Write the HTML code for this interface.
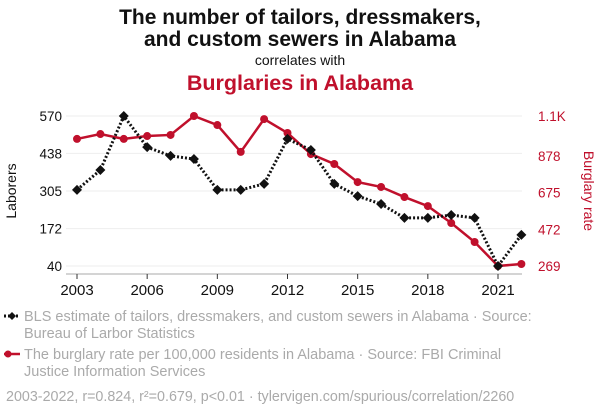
<!DOCTYPE html>
<html><head><meta charset="utf-8"><style>
body{margin:0;background:#fff;width:600px;height:414px;overflow:hidden;font-family:"Liberation Sans",sans-serif}
svg text{font-family:"Liberation Sans",sans-serif}
</style></head><body>
<svg width="600" height="414">
<text x="300" y="24" text-anchor="middle" font-size="21" font-weight="bold" fill="#111">The number of tailors, dressmakers,</text>
<text x="300" y="46" text-anchor="middle" font-size="21" font-weight="bold" fill="#111">and custom sewers in Alabama</text>
<text x="300" y="65" text-anchor="middle" font-size="14" fill="#111">correlates with</text>
<text x="300" y="90" text-anchor="middle" font-size="21.5" font-weight="bold" fill="#c0102c">Burglaries in Alabama</text>
<g id="grid"></g>
<text transform="translate(16,191) rotate(-90)" text-anchor="middle" font-size="14" fill="#111">Laborers</text>
<text transform="translate(584,191) rotate(90)" text-anchor="middle" font-size="14" fill="#c0102c">Burglary rate</text>
<g id="marks"></g>
<g>
<line x1="4" y1="316" x2="20" y2="316" stroke="#111" stroke-width="3" stroke-dasharray="2,2"/>
<path d="M12 312 L16 316 L12 320 L8 316Z" fill="#111"/>
<text x="24" y="321" font-size="14.5" fill="#aaa">BLS estimate of tailors, dressmakers, and custom sewers in Alabama · Source:</text>
<text x="24" y="338" font-size="14.5" fill="#aaa">Bureau of Larbor Statistics</text>
<line x1="4" y1="354" x2="20" y2="354" stroke="#c0102c" stroke-width="2.5"/>
<circle cx="8" cy="354" r="3.5" fill="#c0102c"/>
<text x="24" y="359" font-size="14.5" fill="#aaa">The burglary rate per 100,000 residents in Alabama · Source: FBI Criminal</text>
<text x="24" y="376" font-size="14.5" fill="#aaa">Justice Information Services</text>
<text x="6" y="401" font-size="14.3" fill="#aaa">2003-2022, r=0.824, r²=0.679, p&lt;0.01 · tylervigen.com/spurious/correlation/2260</text>
</g>
</svg>
<script>
const years=[2003,2004,2005,2006,2007,2008,2009,2010,2011,2012,2013,2014,2015,2016,2017,2018,2019,2020,2021,2022];
const laborers=[309,379,570,460,429,418,309,309,330,489,450,330,287,259,210,210,220,210,40,150];
const burglary=[973,1000,973,989,995,1100,1050,901,1083,1006,889,834,734,707,651,601,507,402,269,280];
const leftTicks=[40,172,305,438,570];
const rightTicks=[269,472,675,878,1100];
const rightLabels=["269","472","675","878","1.1K"];
const xTicks=[2003,2006,2009,2012,2015,2018,2021];
const NS="http://www.w3.org/2000/svg";
const x=v=>77+(v-2003)*(498-77)/18;
const yl=v=>266-(v-40)*150/530;
const yr=v=>266-(v-269)*150/831;
function mk(t,a,p){const e=document.createElementNS(NS,t);for(const k in a)e.setAttribute(k,a[k]);p.appendChild(e);return e;}
const g=document.getElementById('grid'),m=document.getElementById('marks');
leftTicks.forEach((v,i)=>{
 const l=mk('line',{x1:66,x2:522,y1:yl(v),y2:yl(v),stroke:'#eee','stroke-width':1},g);
 
 
 const t=mk('text',{x:62,y:yl(v)+5,'text-anchor':'end','font-size':13.5,fill:'#111'},g);t.textContent=v;
 
 
});
rightTicks.forEach((v,i)=>{
 const t=mk('text',{x:538,y:yr(v)+5,'font-size':13.5,fill:'#c0102c'},g);t.textContent=rightLabels[i];
 
 
});
mk('line',{x1:66,x2:522,y1:274,y2:274,stroke:'#aaa'},g);
xTicks.forEach(v=>{
 mk('line',{x1:x(v),x2:x(v),y1:274,y2:279,stroke:'#333'},g);
 const t=mk('text',{x:x(v),y:295,'text-anchor':'middle','font-size':15,fill:'#111'},g);t.textContent=v;
 
 
});
const rp=mk('polyline',{points:years.map((yv,i)=>x(yv)+','+yr(burglary[i])).join(' '),fill:'none',stroke:'#c0102c','stroke-width':2.5},m);


years.forEach((yv,i)=>{const c=mk('circle',{cx:x(yv),cy:yr(burglary[i]),r:4,fill:'#c0102c'},m);
 
 });
const bp=mk('polyline',{points:years.map((yv,i)=>x(yv)+','+yl(laborers[i])).join(' '),fill:'none',stroke:'#111','stroke-width':3,'stroke-dasharray':'2,2'},m);


years.forEach((yv,i)=>{const cx=x(yv),cy=yl(laborers[i]);
 const d=mk('path',{d:`M${cx} ${cy-5}L${cx+5} ${cy}L${cx} ${cy+5}L${cx-5} ${cy}Z`,fill:'#111'},m);
 
 });
</script>
</body></html>
